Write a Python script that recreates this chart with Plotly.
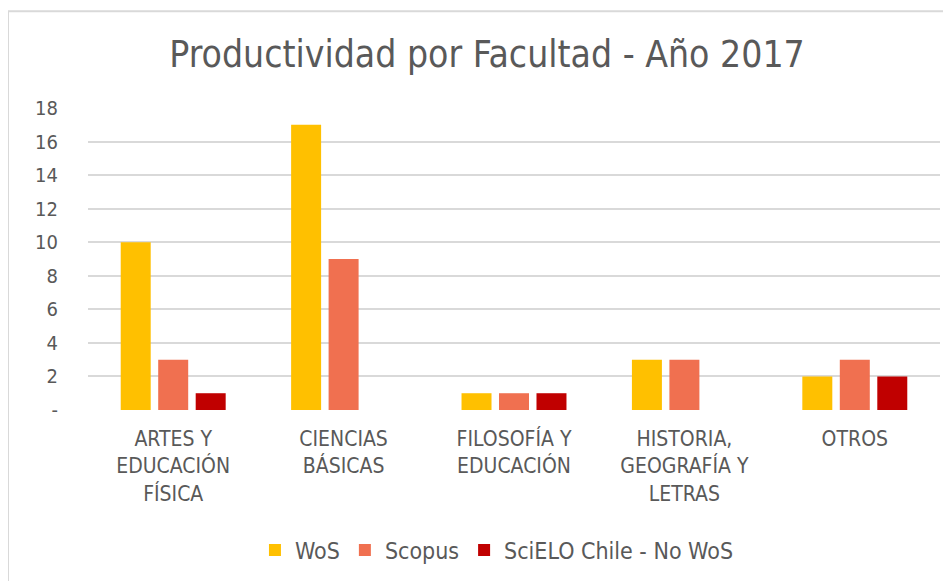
import plotly.graph_objects as go

categories = ["ARTES Y<br>EDUCACIÓN<br>FÍSICA", "CIENCIAS<br>BÁSICAS", "FILOSOFÍA Y<br>EDUCACIÓN",
              "HISTORIA,<br>GEOGRAFÍA Y<br>LETRAS", "OTROS"]
wos = [10, 17, 1, 3, 2]
scopus = [3, 9, 1, 3, 3]
scielo = [1, 0, 1, 0, 2]
series_names = ["WoS", "Scopus", "SciELO Chile - No WoS"]
colors = ["#FFC000", "#F07050", "#C00000"]
tick_vals = list(range(0, 19, 2))
tick_text = ["-"] + [str(v) for v in tick_vals[1:]]

FONT = "DejaVu Sans Condensed"
GREY = "#595959"

fig = go.Figure()
for name, vals, col in zip(series_names, [wos, scopus, scielo], colors):
    fig.add_trace(go.Bar(x=categories, y=vals, name=name,
                         marker=dict(color=col, line=dict(color=col, width=0))))

fig.update_layout(
    width=943, height=573,
    paper_bgcolor="white", plot_bgcolor="white",
    margin=dict(l=80, r=11, t=100, b=170),
    barmode="group", bargap=0.34, bargroupgap=0.2,
    title=dict(text="Productividad por Facultad - Año 2017", x=0.508, xanchor="center",
               y=1 - 46/573, yanchor="middle",
               font=dict(family=FONT, size=37, color=GREY)),
    font=dict(family=FONT, size=20, color=GREY),
    legend=dict(orientation="h", x=0.48, xanchor="center", y=-0.459, yanchor="middle",
                font=dict(family=FONT, size=23, color=GREY), itemwidth=30,
                traceorder="normal"),
    shapes=[dict(type="rect", xref="paper", yref="paper", x0=-0.0939, x1=1.03,
                 y0=-0.7, y1=1.32, line=dict(color="#d9d9d9", width=2), layer="below")],
)
fig.update_yaxes(range=[0, 18], tickvals=tick_vals, ticktext=tick_text,
                 showgrid=True, gridcolor="#d9d9d9", gridwidth=2, zeroline=False,
                 ticks="", ticklabelstandoff=29, showline=False,
                 tickfont=dict(family=FONT, size=20, color=GREY))
fig.update_xaxes(showline=False, ticks="", tickfont=dict(family=FONT, size=21, color=GREY),
                 ticklabelstandoff=14, tickangle=0)

fig.write_html("out.html")
